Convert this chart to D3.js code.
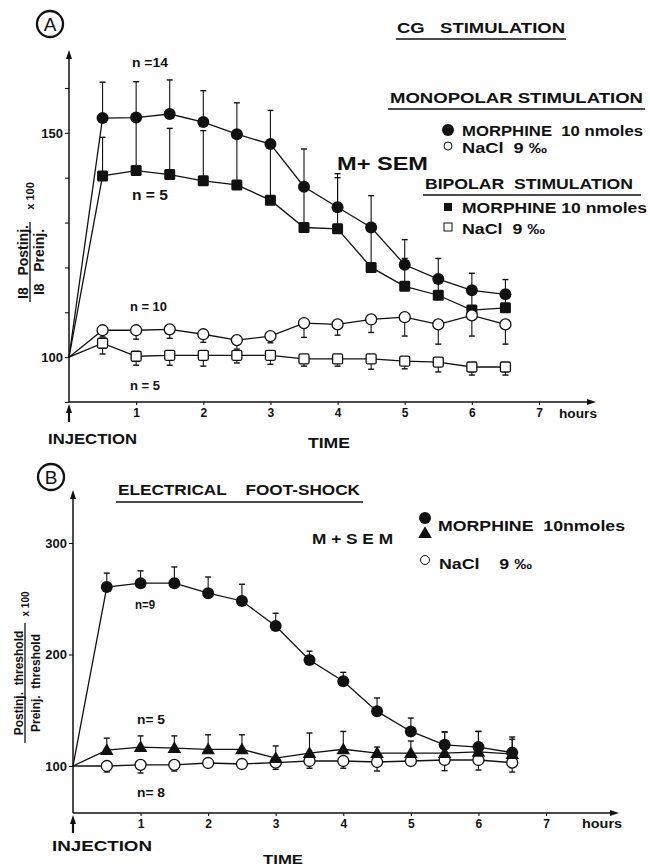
<!DOCTYPE html>
<html>
<head>
<meta charset="utf-8">
<script src="https://cdn.jsdelivr.net/npm/d3@7"></script>
<style>
  body { margin: 0; background: #fff; }
  svg text { font-family: "Liberation Sans", Arial, sans-serif; fill: #111; }
</style>
</head>
<body>
<div id="chart"></div>
<script>
// time points (hours after injection)
const hours = [0, 0.5, 1, 1.5, 2, 2.5, 3, 3.5, 4, 4.5, 5, 5.5, 6, 6.5];

// Panel A - CG stimulation
const monoMorphine = [100, 153.3, 153.4, 154.2, 152.4, 149.7, 147.5, 138, 133.4, 128.9, 120.6, 117.4, 114.9, 114];
const monoMorphineSem = [0, 8, 8, 7.6, 7, 7, 7.5, 8.4, 7.5, 7.1, 5.6, 4.6, 3.8, 3.3];
const monoNaCl = [100, 106, 106, 106.2, 105.1, 103.8, 104.7, 107.6, 107.3, 108.4, 108.9, 107.3, 109.3, 107.3];
const monoNaClSem = [0, 1.5, 2, 2, 1.8, 2, 1.5, 3.2, 2.4, 2.9, 4.2, 4.4, 4.6, 4.4];
const biMorphine = [100, 140.4, 141.6, 140.7, 139.3, 138.4, 135, 128.9, 128.6, 120, 115.8, 113.8, 110.5, 111];
const biMorphineSem = [0, 8.6, 11.4, 10.3, 11.2, 10.6, 12, 9.1, 11.4, 10, 6.2, 3.2, 4.5, 3];
const biNaCl = [100, 103.1, 100.2, 100.4, 100.4, 100.4, 100.4, 99.6, 99.6, 99.6, 99.1, 98.9, 97.8, 97.8];
const biNaClSem = [0, 2.4, 2, 2.2, 2.4, 1.7, 2, 1.6, 1.6, 2.3, 1.7, 2.2, 1.8, 1.8];
const ticksA = [90, 100, 110, 120, 130, 140, 150, 160];
const labelsA = [100, 150];

// Panel B - electrical foot-shock
const shockMorphine9 = [100, 260.5, 264, 264, 255, 248, 225.5, 195, 176, 149, 131, 119, 117, 112];
const shockMorphine9Sem = [0, 12.5, 11, 14.5, 14.5, 15, 11.5, 8, 8, 12, 12, 11.5, 14, 14];
const shockMorphine5 = [100, 114.3, 117, 116, 115, 115, 107, 111.6, 115, 111.6, 111.6, 111.6, 112.6, 110.8];
const shockMorphine5Sem = [0, 10.7, 10, 11, 13, 13, 11, 18, 16, 5.4, 10.8, 18.9, 18.4, 13.2];
const shockNaCl = [100, 100, 101, 101, 102.7, 101.8, 103, 104.5, 104.5, 103.6, 104.5, 105.4, 105.4, 103];
const shockNaClSem = [0, 5.4, 7.3, 5.5, 2, 2, 6, 6.5, 6.5, 8.1, 2, 9.6, 9, 8.4];
const ticksB = [100, 200, 300];

const xTicks = [1, 2, 3, 4, 5, 6, 7];

const svg = d3.select('#chart')
  .append('svg')
  .attr('width', 650)
  .attr('height', 866);

const ink = '#111';

// ---------- helpers ----------
function label(txt, x, y, size, len, opts) {
  opts = opts || {};
  let t = svg.append('text')
    .attr('x', x)
    .attr('y', y)
    .attr('font-size', size)
    .attr('font-weight', opts.weight || 'bold')
    .attr('text-anchor', opts.anchor || 'start')
    .style('white-space', 'pre')
    .text(txt);
  if (len) t.attr('textLength', len).attr('lengthAdjust', 'spacingAndGlyphs');
  return t;
}

function hline(x1, x2, y, w) {
  svg.append('line')
    .attr('x1', x1).attr('x2', x2)
    .attr('y1', y).attr('y2', y)
    .attr('stroke', ink)
    .attr('stroke-width', w || 1.3);
}

function arrowHead(x, y, dir) {
  // dir: 'up' or 'right'
  let p = dir == 'up'
    ? [[x, y], [x - 3, y + 9], [x + 3, y + 9]]
    : [[x, y], [x - 9, y - 3], [x - 9, y + 3]];
  svg.append('path')
    .attr('d', 'M' + p.map(d => d.join(',')).join('L') + 'Z')
    .attr('fill', ink);
}

function marker(g, kind, x, y) {
  if (kind == 'dot') {
    g.append('circle').attr('cx', x).attr('cy', y).attr('r', 6).attr('fill', ink);
  } else if (kind == 'ring') {
    g.append('circle').attr('cx', x).attr('cy', y).attr('r', 5.5)
      .attr('fill', '#fff').attr('stroke', ink).attr('stroke-width', 1.3);
  } else if (kind == 'square') {
    g.append('rect').attr('x', x - 5.5).attr('y', y - 5.5).attr('width', 11).attr('height', 11)
      .attr('rx', 1.5).attr('fill', ink);
  } else if (kind == 'box') {
    g.append('rect').attr('x', x - 5).attr('y', y - 5).attr('width', 10).attr('height', 10)
      .attr('rx', 1.5).attr('fill', '#fff').attr('stroke', ink).attr('stroke-width', 1.3);
  } else if (kind == 'tri') {
    g.append('path')
      .attr('d', d3.symbol(d3.symbolTriangle, 80)())
      .attr('transform', 'translate(' + x + ',' + (y + 1) + ')')
      .attr('fill', ink);
  }
}

function drawSeries(g, x, y, values, sem, dir) {
  let pts = hours.map((h, i) => ({ h: h, v: values[i], s: sem[i] }));
  let line = d3.line()
    .x(d => x(d.h))
    .y(d => y(d.v));
  g.append('path')
    .datum(pts)
    .attr('d', line)
    .attr('fill', 'none')
    .attr('stroke', ink)
    .attr('stroke-width', 1.3);

  // error bars (one-sided, T cap)
  pts.slice(1).forEach(function(d) {
    if (!d.s) return;
    let y0 = y(d.v), y1 = y(d.v + dir * d.s);
    g.append('line')
      .attr('x1', x(d.h)).attr('x2', x(d.h))
      .attr('y1', y0).attr('y2', y1)
      .attr('stroke', ink).attr('stroke-width', 1.1);
    g.append('line')
      .attr('x1', x(d.h) - 3).attr('x2', x(d.h) + 3)
      .attr('y1', y1).attr('y2', y1)
      .attr('stroke', ink).attr('stroke-width', 1.4);
  });
  return pts;
}

function drawMarkers(g, x, y, pts, kind) {
  pts.slice(1).forEach(function(d) {
    marker(g, kind, x(d.h), y(d.v));
  });
}

function yAxis(scale, x0, yBottom, yTop, tickVals, labelVals) {
  let g = svg.append('g')
    .attr('transform', 'translate(' + x0 + ',0)')
    .call(d3.axisLeft(scale)
      .tickValues(tickVals)
      .tickSize(4)
      .tickPadding(2)
      .tickFormat(d => labelVals.indexOf(d) >= 0 ? d : ''));
  g.select('.domain').remove();
  g.selectAll('.tick line').attr('stroke', ink).attr('stroke-width', 1.1);
  g.selectAll('.tick text')
    .attr('font-size', 13)
    .attr('font-weight', 'bold')
    .attr('font-family', '"Liberation Sans", Arial, sans-serif')
    .attr('fill', ink);
  svg.append('line')
    .attr('x1', x0).attr('x2', x0)
    .attr('y1', yBottom).attr('y2', yTop + 4)
    .attr('stroke', ink).attr('stroke-width', 1.5);
  arrowHead(x0, yTop, 'up');
}

function xAxis(scale, y0, xRight) {
  let g = svg.append('g')
    .attr('transform', 'translate(0,' + y0 + ')')
    .call(d3.axisBottom(scale)
      .tickValues(xTicks)
      .tickSize(3)
      .tickPadding(3)
      .tickFormat(d3.format('d')));
  g.select('.domain').remove();
  g.selectAll('.tick line').attr('stroke', ink).attr('stroke-width', 1.1);
  g.selectAll('.tick text')
    .attr('font-size', 12)
    .attr('font-weight', 'bold')
    .attr('font-family', '"Liberation Sans", Arial, sans-serif')
    .attr('fill', ink);
  svg.append('line')
    .attr('x1', scale(0)).attr('x2', xRight - 4)
    .attr('y1', y0).attr('y2', y0)
    .attr('stroke', ink).attr('stroke-width', 1.5);
  arrowHead(xRight, y0, 'right');
}

function circledLetter(letter, cx, cy) {
  svg.append('circle')
    .attr('cx', cx).attr('cy', cy).attr('r', 13)
    .attr('fill', 'none').attr('stroke', ink).attr('stroke-width', 2.3);
  label(letter, cx, cy + 7, 19, null, { anchor: 'middle', weight: 'normal' });
}

function injection(x, yAxisLine, yText, textX, len) {
  svg.append('line')
    .attr('x1', x).attr('x2', x)
    .attr('y1', yAxisLine + 20).attr('y2', yAxisLine + 8)
    .attr('stroke', ink).attr('stroke-width', 2.2);
  arrowHead(x, yAxisLine + 2, 'up');
  label('INJECTION', textX, yText, 15, len);
}

function fractionLabel(num, den, cy, barX, halfLen, numX, denX, size) {
  [[num, numX], [den, denX]].forEach(function(p) {
    svg.append('text')
      .attr('transform', 'translate(' + p[1] + ',' + cy + ') rotate(-90)')
      .attr('text-anchor', 'middle')
      .attr('font-size', size)
      .attr('font-weight', 'bold')
      .style('white-space', 'pre')
      .text(p[0]);
  });
  svg.append('line')
    .attr('x1', barX).attr('x2', barX)
    .attr('y1', cy - halfLen).attr('y2', cy + halfLen)
    .attr('stroke', ink).attr('stroke-width', 1.3);
}

// ---------- Panel A ----------
let xA = d3.scaleLinear().domain([0, 7]).range([69, 539]);
let yA = d3.scaleLinear().domain([90, 160]).range([402, 88]);

circledLetter('A', 50, 24);
yAxis(yA, 69, 402, 50, ticksA, labelsA);
xAxis(xA, 402, 596);
injection(69, 402, 444, 48, 89);

let gA = svg.append('g');
let pMonoM = drawSeries(gA, xA, yA, monoMorphine, monoMorphineSem, 1);
let pBiM = drawSeries(gA, xA, yA, biMorphine, biMorphineSem, 1);
let pMonoN = drawSeries(gA, xA, yA, monoNaCl, monoNaClSem, -1);
let pBiN = drawSeries(gA, xA, yA, biNaCl, biNaClSem, -1);
drawMarkers(gA, xA, yA, pMonoM, 'dot');
drawMarkers(gA, xA, yA, pBiM, 'square');
drawMarkers(gA, xA, yA, pMonoN, 'ring');
drawMarkers(gA, xA, yA, pBiN, 'box');

label('CG   STIMULATION', 397, 33, 14, 168);
hline(396, 566, 39);
label('MONOPOLAR STIMULATION', 390, 103, 15, 253);
hline(388, 645, 109);
marker(svg, 'dot', 448, 130);
label('MORPHINE  10 nmoles', 462, 136, 14, 181);
svg.append('circle').attr('cx', 448).attr('cy', 146).attr('r', 4)
  .attr('fill', 'none').attr('stroke', ink).attr('stroke-width', 1);
label('NaCl  9 ‰', 462, 153, 14, 85);
label('BIPOLAR  STIMULATION', 425, 189, 15, 208);
hline(423, 641, 195);
svg.append('rect').attr('x', 444).attr('y', 203).attr('width', 8).attr('height', 8).attr('fill', ink);
label('MORPHINE 10 nmoles', 462, 213, 14, 185);
svg.append('rect').attr('x', 444).attr('y', 223).attr('width', 8).attr('height', 8)
  .attr('fill', 'none').attr('stroke', ink).attr('stroke-width', 1);
label('NaCl  9 ‰', 462, 234, 14, 83);

label('M+ SEM', 337, 170, 18, 91);
label('n =14', 132, 67, 12, 36);
label('n = 5', 132, 200, 14, 36);
label('n = 10', 130, 311, 12, 37);
label('n = 5', 130, 390, 13, 30);
label('TIME', 308, 448, 14, 42);
label('hours', 559, 418, 13, 38);

fractionLabel('I8   Postinj.', 'I8   Preinj.', 262, 30, 40, 28, 44, 14);
svg.append('text')
  .attr('transform', 'translate(34,196) rotate(-90)')
  .attr('text-anchor', 'middle')
  .attr('font-size', 11)
  .attr('font-weight', 'bold')
  .text('x 100');

// ---------- Panel B ----------
let xB = d3.scaleLinear().domain([0, 7]).range([73, 546]);
let yB = d3.scaleLinear().domain([100, 300]).range([766, 543]);

circledLetter('B', 51, 477);
yAxis(yB, 73, 813, 490, ticksB, ticksB);
xAxis(xB, 813, 619);
injection(73, 813, 851, 52, 100);

let gB = svg.append('g');
let pS9 = drawSeries(gB, xB, yB, shockMorphine9, shockMorphine9Sem, 1);
let pS5 = drawSeries(gB, xB, yB, shockMorphine5, shockMorphine5Sem, 1);
let pSN = drawSeries(gB, xB, yB, shockNaCl, shockNaClSem, -1);
drawMarkers(gB, xB, yB, pSN, 'ring');
drawMarkers(gB, xB, yB, pS5, 'tri');
drawMarkers(gB, xB, yB, pS9, 'dot');

label('ELECTRICAL    FOOT-SHOCK', 118, 495, 14, 242);
hline(116, 363, 502);
label('M + S E M', 312, 544, 14, 81);
marker(svg, 'dot', 425, 518);
marker(svg, 'tri', 425, 533);
label('MORPHINE  10nmoles', 438, 531, 15, 187);
svg.append('circle').attr('cx', 425).attr('cy', 560).attr('r', 4.5)
  .attr('fill', 'none').attr('stroke', ink).attr('stroke-width', 1);
label('NaCl    9 ‰', 439, 569, 14, 93);
label('n=9', 135, 609, 12, 20);
label('n= 5', 137, 724, 13, 28);
label('n= 8', 137, 797, 13, 28);
label('TIME', 263, 864, 13, 40);
label('hours', 582, 828, 13, 40);

fractionLabel('Postinj.  threshold', 'Preinj.  threshold', 683, 25, 60, 23, 40, 12);
svg.append('text')
  .attr('transform', 'translate(29,604) rotate(-90)')
  .attr('text-anchor', 'middle')
  .attr('font-size', 10)
  .attr('font-weight', 'bold')
  .text('x 100');
</script>
</body>
</html>
